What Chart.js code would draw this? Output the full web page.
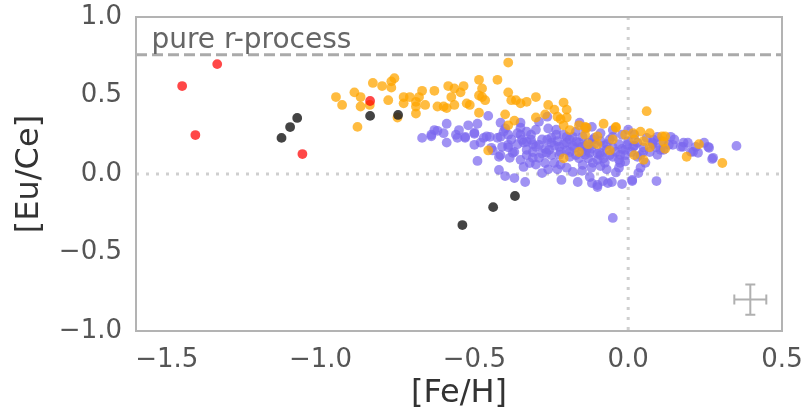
<!DOCTYPE html>
<html>
<head>
<meta charset="utf-8">
<script src="https://cdn.jsdelivr.net/npm/chart.js@4"></script>
<style>
  body { margin:0; background:#fff; }
</style>
</head>
<body>
<canvas id="chart_euce" width="804" height="410"></canvas>
<script>
//Graduations des axes
const xTicks = [-1.5, -1.0, -0.5, 0.0, 0.5];
const yTicks = [-1.0, -0.5, 0.0, 0.5, 1.0];

//Niveau r-process pur et barre d'erreur typique
const pureR = 0.76;
const errCenter = [0.397, -0.80];
const errSize = [0.052, 0.096];

//Étoiles rouges
const redStars = [[-1.450,0.560],[-1.336,0.700],[-1.407,0.248],[-1.059,0.127],[-0.839,0.465]];

//Étoiles noires
const blackStars = [[-1.127,0.230],[-1.099,0.299],[-1.076,0.357],[-0.839,0.370],[-0.748,0.376],
  [-0.539,-0.325],[-0.439,-0.211],[-0.368,-0.140]];

//Étoiles orange
const orangeStars = [
  [-0.95,0.49],[-0.93,0.44],[-0.89,0.52],[-0.87,0.49],[-0.87,0.43],[-0.84,0.44],[-0.83,0.58],[-0.80,0.56],
  [-0.77,0.59],[-0.76,0.61],[-0.77,0.55],[-0.78,0.47],[-0.88,0.30],[-0.75,0.36],[-0.73,0.49],[-0.73,0.45],
  [-0.71,0.49],[-0.69,0.46],[-0.68,0.49],[-0.69,0.43],[-0.66,0.44],[-0.67,0.53],[-0.69,0.385],[-0.63,0.53],
  [-0.62,0.43],[-0.60,0.43],[-0.59,0.42],[-0.585,0.56],[-0.575,0.49],[-0.565,0.545],[-0.545,0.52],[-0.535,0.56],
  [-0.565,0.44],[-0.525,0.45],[-0.515,0.44],[-0.485,0.60],[-0.475,0.545],[-0.485,0.50],[-0.475,0.49],[-0.485,0.39],
  [-0.455,0.15],[-0.39,0.71],[-0.425,0.60],[-0.465,0.47],[-0.39,0.52],[-0.38,0.47],[-0.365,0.47],[-0.35,0.45],
  [-0.33,0.46],[-0.30,0.49],[-0.26,0.44],[-0.24,0.41],[-0.21,0.455],[-0.20,0.41],[-0.23,0.365],[-0.22,0.35],
  [-0.27,0.38],[-0.30,0.36],[-0.20,0.36],[-0.40,0.38],[-0.37,0.34],[-0.39,0.31],[-0.21,0.31],[-0.19,0.28],
  [-0.16,0.31],[-0.135,0.295],[-0.08,0.32],[-0.04,0.295],[-0.01,0.25],[-0.14,0.25],[-0.13,0.19],[-0.10,0.19],
  [-0.05,0.22],[-0.06,0.15],[-0.16,0.14],[-0.21,0.10],[0.06,0.40],[-0.04,0.30],[-0.14,0.30],[-0.10,0.24],
  [0.016,0.26],[0.04,0.27],[0.07,0.26],[0.02,0.22],[0.05,0.21],[0.07,0.17],[0.11,0.24],[0.12,0.24],
  [0.115,0.205],[0.12,0.16],[0.02,0.12],[0.05,0.09],[0.19,0.11],[0.23,0.19],[0.306,0.07]
];

//Étoiles violettes
const purpleStars = [
  [-0.67,0.23],[-0.64,0.24],[-0.64,0.25],[-0.63,0.28],[-0.62,0.275],[-0.59,0.32],[-0.59,0.20],[-0.56,0.25],
  [-0.555,0.23],[-0.53,0.23],[-0.52,0.31],[-0.50,0.256],[-0.49,0.32],[-0.49,0.083],[-0.47,0.23],[-0.455,0.37],
  [-0.46,0.24],[-0.53,0.237],[-0.50,0.263],[-0.50,0.186],[-0.445,0.167],[-0.425,0.23],[-0.405,0.27],[-0.415,0.12],
  [-0.39,0.25],[-0.39,0.186],[-0.375,0.135],[-0.35,0.327],[-0.35,0.25],[-0.33,0.205],[-0.33,0.12],[-0.316,0.25],
  [-0.30,0.173],[-0.29,0.333],[-0.29,0.103],[-0.263,0.365],[-0.263,0.218],[-0.257,0.154],[-0.234,0.25],[-0.224,0.122],
  [-0.20,0.20],[-0.18,0.237],[-0.174,0.167],[-0.14,0.122],[-0.118,0.30],[-0.11,0.23],[-0.09,0.12],[-0.07,0.154],
  [-0.05,0.237],[-0.026,0.122],[-0.003,0.186],[-0.45,0.237],[-0.415,0.327],[-0.415,0.237],[-0.41,0.173],[-0.42,0.109],
  [-0.42,0.026],[-0.40,-0.013],[-0.39,0.17],[-0.385,0.103],[-0.37,0.141],[-0.37,-0.026],[-0.35,0.295],[-0.345,0.218],
  [-0.34,0.045],[-0.335,-0.051],[-0.33,0.154],[-0.316,0.218],[-0.31,0.103],[-0.30,0.282],[-0.29,0.186],[-0.28,0.006],
  [-0.266,0.135],[-0.25,0.231],[-0.24,0.071],[-0.234,0.282],[-0.224,0.173],[-0.217,-0.038],[-0.20,0.237],[-0.19,0.109],
  [-0.18,0.013],[-0.168,0.205],[-0.164,-0.051],[-0.148,0.058],[-0.135,0.154],[-0.125,-0.019],[-0.10,0.09],[-0.10,-0.07],
  [-0.118,-0.058],[-0.10,-0.083],[-0.082,-0.045],[-0.066,-0.058],[-0.02,-0.064],[0.013,-0.045],[0.092,-0.045],[-0.05,-0.28],
  [0.033,0.006],[-0.158,0.327],[-0.148,0.237],[-0.115,0.218],[-0.151,0.173],[-0.125,0.135],[-0.092,0.135],[-0.115,0.071],
  [-0.076,0.071],[-0.05,0.109],[-0.026,0.071],[0,0.282],[-0.01,0.154],[0.016,0.173],[0.03,0.109],[0.049,0.141],
  [0.056,0.071],[0.079,0.199],[0.095,0.237],[0.095,0.122],[0.105,0.154],[0.138,0.237],[0.145,0.186],[0.171,0.173],
  [0.194,0.199],[0.211,0.141],[0.22,0.173],[0.247,0.199],[0.26,0.173],[0.276,0.103],[0.352,0.179],[0.013,-0.038],
  [-0.053,-0.051],[0.082,0.218],[0.115,0.154],[0.132,0.186],[0.178,0.173],[0.204,0.141],[0.227,0.135],[0.263,0.167],
  [0.273,0.096],[-0.6,0.26],[-0.55,0.28],[-0.48,0.20],[-0.44,0.15],[-0.36,0.19],[-0.31,0.14],[-0.27,0.07],
  [-0.22,0.06],[-0.19,0.14],[-0.16,0.10],[-0.13,0.20],[-0.08,0.18],[-0.06,0.22],[-0.03,0.19],[0.0,0.21],
  [0.03,0.20],[0.06,0.23],[0.09,0.17],[-0.02,0.25],[-0.09,0.26],[-0.17,0.27],[-0.25,0.20],[-0.21,0.25],
  [-0.12,0.04],[-0.07,0.03],[-0.04,0.01],[-0.01,0.08],[0.04,0.04],[0.11,0.21],[0.15,0.22],[0.18,0.20],
  [-0.23,0.03],[-0.30,0.06],[-0.35,0.09],[-0.26,0.29],[-0.14,0.29],[-0.05,0.28],[0.02,0.25],
  [-0.28,0.22],[-0.27,0.16],[-0.25,0.12],[-0.24,0.18],[-0.23,0.21],[-0.22,0.14],[-0.21,0.19],[-0.2,0.15],
  [-0.19,0.22],[-0.18,0.18],[-0.17,0.12],[-0.16,0.2],[-0.15,0.14],[-0.14,0.18],[-0.13,0.1],[-0.12,0.16],
  [-0.11,0.19],[-0.1,0.13],[-0.09,0.21],[-0.08,0.1],[-0.07,0.19],[-0.06,0.12],[-0.05,0.17],[-0.04,0.14],
  [-0.03,0.09],[-0.02,0.16],[-0.01,0.12],[0.01,0.14],[0.02,0.18],[0.04,0.12],[0.05,0.17],[0.07,0.14],
  [0.08,0.19],[-0.34,0.2],[-0.33,0.27],[-0.31,0.19],[-0.28,0.13],[-0.38,0.22],[-0.4,0.29],[-0.36,0.26],
  [-0.32,0.07],[-0.26,0.03],[-0.2,0.04],[-0.15,0.02],[-0.09,0.05],[-0.03,0.04]
];

const toPoints = arr => arr.map(p => ({x:p[0], y:p[1]}));
const fmt = v => (v < 0 ? '\u2212' : '') + Math.abs(v).toFixed(1);
const FONT = "'DejaVu Sans', sans-serif";

//Pas de marge automatique pour les étiquettes : la zone du graphique est fixée par layout.padding
const noPad = s => { s.paddingTop = 0; s.paddingBottom = 0; s.paddingLeft = 0; s.paddingRight = 0; };

//Lignes de référence, cadre et barre d'erreur
const refLines = {
  id:'refLines',
  beforeDatasetsDraw(chart){
    const {ctx, chartArea:a, scales:{x, y}} = chart;
    ctx.save();
    ctx.lineWidth = 3;
    ctx.lineCap = 'butt';
    ctx.strokeStyle = '#cfcfcf';
    ctx.setLineDash([3, 7]);
    const x0 = x.getPixelForValue(0), y0 = y.getPixelForValue(0);
    ctx.beginPath(); ctx.moveTo(a.left, y0); ctx.lineTo(a.right, y0); ctx.stroke();
    ctx.beginPath(); ctx.moveTo(x0, a.top); ctx.lineTo(x0, a.bottom); ctx.stroke();

    ctx.strokeStyle = '#aaaaaa';
    ctx.setLineDash([11, 5]);
    const yr = y.getPixelForValue(pureR);
    ctx.beginPath(); ctx.moveTo(a.left, yr); ctx.lineTo(a.right, yr); ctx.stroke();
    ctx.setLineDash([]);

    ctx.fillStyle = '#666666';
    ctx.font = "28px " + FONT;
    ctx.textBaseline = 'alphabetic';
    ctx.fillText('pure r-process', x.getPixelForValue(-1.55), y.getPixelForValue(0.80));

    //Barre d'erreur
    const cx = x.getPixelForValue(errCenter[0]), cy = y.getPixelForValue(errCenter[1]);
    const xl = x.getPixelForValue(errCenter[0] - errSize[0]), xr = x.getPixelForValue(errCenter[0] + errSize[0]);
    const yt = y.getPixelForValue(errCenter[1] + errSize[1]), yb = y.getPixelForValue(errCenter[1] - errSize[1]);
    ctx.strokeStyle = '#b0b0b0';
    ctx.lineWidth = 2;
    ctx.beginPath();
    ctx.moveTo(xl, cy); ctx.lineTo(xr, cy);
    ctx.moveTo(cx, yt); ctx.lineTo(cx, yb);
    ctx.moveTo(xl, cy - 5); ctx.lineTo(xl, cy + 5);
    ctx.moveTo(xr, cy - 5); ctx.lineTo(xr, cy + 5);
    ctx.moveTo(cx - 5, yt); ctx.lineTo(cx + 5, yt);
    ctx.moveTo(cx - 5, yb); ctx.lineTo(cx + 5, yb);
    ctx.stroke();
    ctx.restore();
  },
  afterDraw(chart){
    const {ctx, chartArea:a} = chart;
    ctx.save();
    ctx.strokeStyle = '#b3b3b3';
    ctx.lineWidth = 2;
    ctx.strokeRect(a.left, a.top, a.right - a.left, a.bottom - a.top);
    ctx.restore();
  }
};

const ctx = document.getElementById('chart_euce');

new Chart(ctx, {
  type:'scatter',
  data:{
    datasets:[
      {label:'red', data:toPoints(redStars), backgroundColor:'rgba(255,0,0,0.72)', order:0},
      {label:'black', data:toPoints(blackStars), backgroundColor:'rgba(34,34,34,0.85)', order:1},
      {label:'orange', data:toPoints(orangeStars), backgroundColor:'rgba(255,165,0,0.75)', order:2},
      {label:'purple', data:toPoints(purpleStars), backgroundColor:'rgba(123,104,238,0.72)', order:3}
    ]
  },
  options:{
    responsive:false,
    animation:false,
    events:[],
    layout:{padding:{top:17, right:22, left:0, bottom:0}},
    elements:{point:{radius:4.9, hoverRadius:4.9, borderWidth:0}},
    plugins:{legend:{display:false}, tooltip:{enabled:false}},
    scales:{
      x:{
        type:'linear', min:-1.6, max:0.5,
        grid:{display:false, drawTicks:false}, border:{display:false},
        afterBuildTicks: s => { s.ticks = xTicks.map(v => ({value:v})); },
        afterFit: s => { s.height = 79; noPad(s); },
        ticks:{color:'#555555', font:{family:FONT, size:26}, padding:14, maxRotation:0, autoSkip:false, callback:fmt},
        title:{display:true, text:'[Fe/H]', color:'#333333', font:{family:FONT, size:32, lineHeight:1}, padding:{top:0, bottom:0}}
      },
      y:{
        type:'linear', min:-1, max:1,
        grid:{display:false, drawTicks:false}, border:{display:false},
        afterBuildTicks: s => { s.ticks = yTicks.map(v => ({value:v})); },
        afterFit: s => { s.width = 136; noPad(s); },
        ticks:{color:'#555555', font:{family:FONT, size:26}, padding:14, autoSkip:false, callback:fmt},
        title:{display:true, text:'[Eu/Ce]', color:'#333333', font:{family:FONT, size:32}, padding:{top:10, bottom:0}}
      }
    }
  },
  plugins:[refLines]
});
</script>
</body>
</html>
